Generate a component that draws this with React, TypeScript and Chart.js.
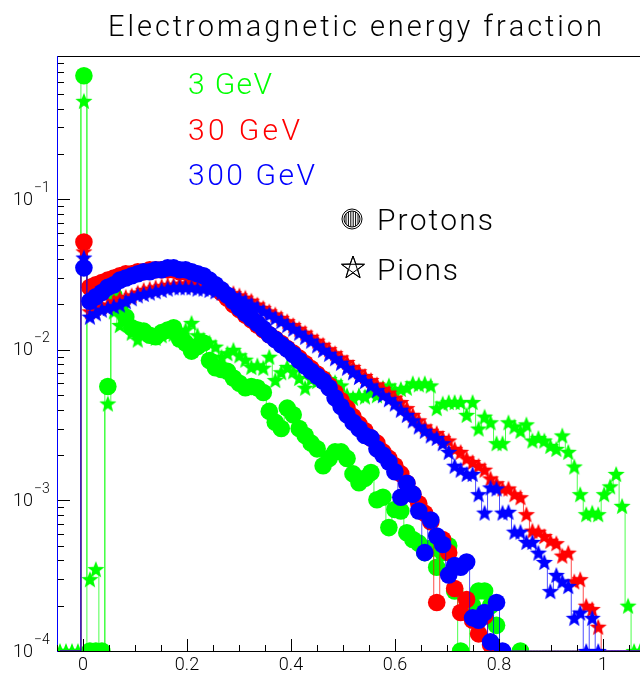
import React, { useEffect, useRef } from "react";
import { Chart, registerables } from "chart.js";

Chart.register(...registerables);

// ---------- axis definition ----------
const X_MIN = -0.05;
const X_MAX = 1.1;
const N_BINS = 100;
const Y_MIN = 1e-4;
const Y_MAX = 0.893;
const X_MAJOR_TICKS = [0, 0.2, 0.4, 0.6, 0.8, 1];
const X_TICK_LABELS = ["0", "0.2", "0.4", "0.6", "0.8", "1"];
const X_MINOR_STEP = 0.05;
const Y_DECADES = [-4, -3, -2, -1];
const Y_TICK_BASE = "10";
const Y_TICK_EXPONENTS = ["\u22124", "\u22123", "\u22122", "\u22121"];

const TITLE = "Electromagnetic energy fraction";
const ENERGY_LABELS = ["3 GeV", "30 GeV", "300 GeV"];
const PARTICLE_LABELS = ["Protons", "Pions"];

// ---------- histogram contents (100 bins, -0.05 .. 1.1) ----------
// values < 1e-4 (but > 0) are drawn on the lower frame edge, 0 = empty bin
const P_3GEV = [
  0, 0, 0, 0, 0.66, 0.00005, 0.00005, 0.00005, 0.0057, 0.023,
  0.019, 0.0165, 0.014, 0.0135, 0.0133, 0.0125, 0.0122, 0.013, 0.0135, 0.014,
  0.0118, 0.0111, 0.0098, 0.0105, 0.0111, 0.0085, 0.0076, 0.0074, 0.0072, 0.0065,
  0.006, 0.0056, 0.0057, 0.0056, 0.0052, 0.0039, 0.0033, 0.003, 0.0041, 0.0037,
  0.003, 0.0027, 0.0024, 0.0022, 0.0017, 0.0019, 0.0021, 0.0021, 0.0019, 0.0015,
  0.00131, 0.0014, 0.00153, 0.00101, 0.00105, 0.00066, 0.00087, 0.00085, 0.00061, 0.00055,
  0.00052, 0.00045, 0.00048, 0.00036, 0.00045, 0.0005, 0.00025, 0.00005, 0, 0.0002,
  0.00025, 0.00025, 0.0002, 0.000148, 0, 0, 0, 0.00005, 0, 0,
  0, 0, 0, 0, 0, 0, 0, 0, 0, 0,
  0, 0, 0, 0, 0, 0, 0, 0, 0, 0,
];
const PI_3GEV = [
  0.00005, 0.00005, 0.00005, 0.00005, 0.45, 0.0003, 0.00035, 0, 0.0044, 0.018,
  0.0146, 0.0158, 0.013, 0.0117, 0.013, 0.0128, 0.012, 0.0125, 0.0132, 0.0128,
  0.0125, 0.0136, 0.0151, 0.0125, 0.0117, 0.0112, 0.0105, 0.009, 0.0095, 0.01,
  0.0092, 0.0086, 0.0077, 0.0079, 0.0076, 0.009, 0.0063, 0.0071, 0.0077, 0.0072,
  0.0065, 0.0056, 0.0064, 0.0062, 0.0066, 0.0064, 0.0061, 0.0058, 0.005, 0.0048,
  0.005, 0.0049, 0.0052, 0.005, 0.0056, 0.0058, 0.0054, 0.0055, 0.0056, 0.006,
  0.0059, 0.006, 0.0058, 0.0041, 0.0044, 0.0045, 0.0045, 0.0045, 0.0037, 0.0045,
  0.003, 0.0036, 0.0033, 0.0024, 0.0024, 0.0033, 0.0031, 0.0029, 0.0032, 0.0025,
  0.0026, 0.0025, 0.0023, 0.0022, 0.0027, 0.0021, 0.00168, 0.0011, 0.00081, 0.00083,
  0.00081, 0.0011, 0.00124, 0.0015, 0.00092, 0.0002, 0.00005, 0.00005, 0.00005, 0.00005,
];
const P_30GEV = [
  0, 0, 0, 0, 0.052, 0.026, 0.027, 0.028, 0.029, 0.03,
  0.031, 0.032, 0.032, 0.033, 0.033, 0.034, 0.034, 0.034, 0.034, 0.034,
  0.033, 0.033, 0.032, 0.031, 0.03, 0.028, 0.026, 0.024, 0.022, 0.02,
  0.0185, 0.017, 0.0158, 0.0146, 0.0136, 0.0126, 0.0118, 0.011, 0.0102, 0.0095,
  0.0088, 0.0081, 0.0075, 0.0069, 0.0064, 0.0058, 0.0052, 0.0046, 0.0041, 0.0036,
  0.0032, 0.0029, 0.0026, 0.0024, 0.0021, 0.0019, 0.0017, 0.0015, 0.0013, 0.0011,
  0.00095, 0.00082, 0.00072, 0.00021, 0.00055, 0.00045, 0.00026, 0.00018, 0.00022, 0.00016,
  0.00013, 0.00017, 0.00011, 0, 0, 0, 0, 0, 0, 0,
  0, 0, 0, 0, 0, 0, 0, 0, 0, 0,
  0, 0, 0, 0, 0, 0, 0, 0, 0, 0,
];
const PI_30GEV = [
  0, 0, 0, 0, 0.045, 0.018, 0.019, 0.0195, 0.02, 0.021,
  0.022, 0.0225, 0.023, 0.024, 0.025, 0.0255, 0.026, 0.0265, 0.027, 0.027,
  0.0275, 0.0275, 0.0275, 0.027, 0.027, 0.0265, 0.026, 0.025, 0.0245, 0.0238,
  0.023, 0.0222, 0.0212, 0.02, 0.019, 0.018, 0.0172, 0.0163, 0.0155, 0.0146,
  0.0138, 0.013, 0.0122, 0.0115, 0.0108, 0.0101, 0.0095, 0.0089, 0.0083, 0.0077,
  0.0072, 0.0067, 0.0063, 0.0059, 0.0055, 0.0052, 0.0048, 0.0045, 0.0041, 0.0037,
  0.0034, 0.0031, 0.0029, 0.0028, 0.0026, 0.0025, 0.0022, 0.0021, 0.0019, 0.0018,
  0.0017, 0.0016, 0.0014, 0.0013, 0.0012, 0.0012, 0.0011, 0.00105, 0.00081, 0.00063,
  0.00062, 0.00058, 0.00054, 0.00052, 0.00043, 0.00045, 0.00029, 0.0003, 0.0002, 0.00019,
  0.000145, 0, 0, 0, 0, 0, 0, 0, 0, 0,
];
const P_300GEV = [
  0, 0, 0, 0, 0.035, 0.021, 0.0225, 0.024, 0.026, 0.027,
  0.029, 0.03, 0.031, 0.032, 0.033, 0.033, 0.034, 0.034, 0.035, 0.035,
  0.034, 0.034, 0.033, 0.032, 0.031, 0.029, 0.027, 0.025, 0.023, 0.021,
  0.019, 0.0175, 0.0162, 0.015, 0.0138, 0.0126, 0.0117, 0.0108, 0.0101, 0.0093,
  0.0085, 0.0078, 0.0072, 0.0067, 0.0062, 0.0056, 0.0048, 0.0042, 0.0037, 0.0033,
  0.003, 0.0027, 0.0026, 0.0022, 0.002, 0.0018, 0.00155, 0.00105, 0.0013, 0.0011,
  0.00085, 0.00045, 0.00074, 0.00058, 0.00051, 0.00032, 0.00037, 0.00036, 0.00039, 0.000166,
  0.00016, 0.00018, 0.000115, 0.00021, 0.00005, 0, 0, 0, 0, 0,
  0, 0, 0, 0, 0, 0, 0, 0, 0, 0,
  0, 0, 0, 0, 0, 0, 0, 0, 0, 0,
];
const PI_300GEV = [
  0, 0, 0, 0, 0.041, 0.0166, 0.0175, 0.0185, 0.019, 0.0195,
  0.02, 0.021, 0.022, 0.023, 0.0235, 0.024, 0.0245, 0.025, 0.0255, 0.026,
  0.026, 0.026, 0.026, 0.0255, 0.0255, 0.025, 0.0245, 0.024, 0.0235, 0.023,
  0.022, 0.021, 0.02, 0.019, 0.018, 0.0172, 0.0163, 0.0155, 0.0146, 0.0138,
  0.013, 0.0122, 0.0115, 0.0107, 0.01, 0.0094, 0.0088, 0.0082, 0.0076, 0.0071,
  0.0066, 0.0062, 0.0058, 0.0054, 0.005, 0.0047, 0.0044, 0.004, 0.0037, 0.0034,
  0.0031, 0.0029, 0.0027, 0.0026, 0.0024, 0.0021, 0.0017, 0.0016, 0.0015, 0.0015,
  0.0011, 0.00083, 0.00122, 0.0012, 0.00083, 0.00084, 0.00062, 0.00062, 0.00053, 0.00053,
  0.00045, 0.00039, 0.00025, 0.00032, 0.00029, 0.00027, 0.000166, 0.00018, 0.00005, 0.000166,
  0.00005, 0, 0, 0, 0, 0, 0, 0, 0, 0,
];

const GREEN = "#00ff00";
const RED = "#ff0000";
const BLUE = "#0000ff";
const FONT = "Roboto, 'DejaVu Sans', sans-serif";

const BIN_WIDTH = (X_MAX - X_MIN) / N_BINS;

function toPoints(values: number[]) {
  return values.map((v, i) => ({
    x: X_MIN + (i + 0.5) * BIN_WIDTH,
    y: v > 0 ? Math.max(v, Y_MIN) : Y_MIN,
    v,
  }));
}

function makeStar(color: string, R: number): HTMLCanvasElement {
  const size = Math.ceil(2 * R + 2);
  const c = document.createElement("canvas");
  c.width = size;
  c.height = size;
  const ctx = c.getContext("2d")!;
  const cx = size / 2;
  const cy = size / 2 + R * 0.1;
  ctx.fillStyle = color;
  ctx.beginPath();
  for (let k = 0; k < 10; k++) {
    const ang = -Math.PI / 2 + (k * Math.PI) / 5;
    const rad = k % 2 === 0 ? R : R * 0.42;
    const px = cx + rad * Math.cos(ang);
    const py = cy + rad * Math.sin(ang);
    if (k === 0) ctx.moveTo(px, py);
    else ctx.lineTo(px, py);
  }
  ctx.closePath();
  ctx.fill();
  return c;
}

function lineColor(hex: string) {
  const r = parseInt(hex.slice(1, 3), 16);
  const g = parseInt(hex.slice(3, 5), 16);
  const b = parseInt(hex.slice(5, 7), 16);
  return `rgba(${r},${g},${b},0.7)`;
}

function histDataset(values: number[], color: string, marker: "circle" | "star", order: number) {
  const starImg = marker === "star" ? makeStar(color, 9) : null;
  return {
    data: toPoints(values),
    borderColor: lineColor(color),
    borderWidth: 1,
    stepped: "middle" as const,
    fill: false,
    tension: 0,
    pointStyle: starImg ? starImg : "circle",
    pointRadius: (c: any) => (c.raw && c.raw.v > 0 ? 8.8 : 0),
    pointHoverRadius: (c: any) => (c.raw && c.raw.v > 0 ? 8.8 : 0),
    pointBackgroundColor: color,
    pointBorderColor: color,
    pointBorderWidth: 0,
    clip: 0,
    order,
  };
}

function drawSpaced(ctx: CanvasRenderingContext2D, text: string, x: number, y: number, width: number) {
  const chars = Array.from(text);
  const widths = chars.map((ch) => ctx.measureText(ch).width);
  const total = widths.reduce((a, b) => a + b, 0);
  const gap = chars.length > 1 ? (width - total) / (chars.length - 1) : 0;
  let cx = x;
  ctx.textAlign = "left";
  chars.forEach((ch, i) => {
    ctx.fillText(ch, cx, y);
    cx += widths[i] + gap;
  });
}

const rootFrame = {
  id: "rootFrame",
  afterDatasetsDraw(chart: any) {
    const ctx: CanvasRenderingContext2D = chart.ctx;
    const { left, right, top, bottom } = chart.chartArea;
    const xs = chart.scales.x;
    const ys = chart.scales.y;
    ctx.save();
    ctx.lineWidth = 1;
    // frame
    ctx.strokeStyle = "#000";
    ctx.beginPath();
    ctx.moveTo(left, top + 0.5);
    ctx.lineTo(right, top + 0.5);
    ctx.moveTo(left, bottom + 0.5);
    ctx.lineTo(right, bottom + 0.5);
    ctx.stroke();
    ctx.strokeStyle = BLUE;
    ctx.beginPath();
    ctx.moveTo(left + 0.5, top);
    ctx.lineTo(left + 0.5, bottom + 1);
    ctx.stroke();

    // x ticks
    ctx.strokeStyle = "#000";
    ctx.beginPath();
    const n0 = Math.round(X_MIN / X_MINOR_STEP);
    const n1 = Math.round(X_MAX / X_MINOR_STEP);
    for (let n = n0; n <= n1; n++) {
      const v = n * X_MINOR_STEP;
      const major = X_MAJOR_TICKS.some((m) => Math.abs(m - v) < 1e-6);
      const px = Math.round(xs.getPixelForValue(v)) + 0.5;
      ctx.moveTo(px, bottom);
      ctx.lineTo(px, bottom - (major ? 12 : 6));
    }
    // y ticks
    const decades = [...Y_DECADES, Y_DECADES[Y_DECADES.length - 1] + 1];
    decades.forEach((e) => {
      for (let m = 1; m <= 9; m++) {
        const v = m * Math.pow(10, e);
        if (v < Y_MIN * 0.999 || v > Y_MAX) continue;
        const py = Math.round(ys.getPixelForValue(v)) + 0.5;
        ctx.moveTo(left + 1, py);
        ctx.lineTo(left + 1 + (m === 1 ? 12 : 6), py);
      }
    });
    ctx.stroke();

    // x labels
    ctx.fillStyle = "#000";
    ctx.font = `300 18px ${FONT}`;
    ctx.textAlign = "center";
    ctx.textBaseline = "middle";
    X_MAJOR_TICKS.forEach((v, i) => {
      ctx.fillText(X_TICK_LABELS[i], xs.getPixelForValue(v), bottom + 14);
    });
    // y labels
    Y_DECADES.forEach((e, i) => {
      const py = ys.getPixelForValue(Math.pow(10, e));
      ctx.font = `300 18px ${FONT}`;
      ctx.textAlign = "right";
      ctx.fillText(Y_TICK_BASE, 33, py + 1);
      ctx.font = `300 14px ${FONT}`;
      ctx.textAlign = "left";
      ctx.fillText(Y_TICK_EXPONENTS[i], 34, py - 11);
    });
    ctx.restore();
  },
  afterDraw(chart: any) {
    const ctx: CanvasRenderingContext2D = chart.ctx;
    ctx.save();
    ctx.textBaseline = "alphabetic";
    // title
    ctx.fillStyle = "#000";
    ctx.font = `300 29px ${FONT}`;
    drawSpaced(ctx, TITLE, 108, 36, 494);
    // energies
    const eColors = [GREEN, RED, BLUE];
    const eWidths = [84, 112, 127];
    const eBase = [94, 140, 185];
    ctx.font = `300 30px ${FONT}`;
    ENERGY_LABELS.forEach((t, i) => {
      ctx.fillStyle = eColors[i];
      drawSpaced(ctx, t, 188, eBase[i], eWidths[i]);
    });
    // particles
    ctx.fillStyle = "#000";
    ctx.font = `300 30px ${FONT}`;
    drawSpaced(ctx, PARTICLE_LABELS[0], 377, 230, 116);
    drawSpaced(ctx, PARTICLE_LABELS[1], 377, 280, 81);

    // hatched circle marker
    ctx.strokeStyle = "#000";
    ctx.lineWidth = 1;
    const cx = 352, cy = 219;
    ctx.beginPath();
    ctx.arc(cx, cy, 10, 0, Math.PI * 2);
    ctx.stroke();
    ctx.beginPath();
    ctx.arc(cx, cy, 8, 0, Math.PI * 2);
    ctx.stroke();
    ctx.save();
    ctx.beginPath();
    ctx.arc(cx, cy, 8, 0, Math.PI * 2);
    ctx.clip();
    ctx.beginPath();
    for (let dx = -6; dx <= 6; dx += 2.4) {
      ctx.moveTo(cx + dx, cy - 9);
      ctx.lineTo(cx + dx, cy + 9);
    }
    ctx.stroke();
    ctx.restore();

    // open star marker with pentagram
    const sx = 353, sy = 268, R = 12, r = R * 0.42;
    const tips: [number, number][] = [];
    ctx.beginPath();
    for (let k = 0; k < 10; k++) {
      const ang = -Math.PI / 2 + (k * Math.PI) / 5;
      const rad = k % 2 === 0 ? R : r;
      const px = sx + rad * Math.cos(ang);
      const py = sy + rad * Math.sin(ang);
      if (k % 2 === 0) tips.push([px, py]);
      if (k === 0) ctx.moveTo(px, py);
      else ctx.lineTo(px, py);
    }
    ctx.closePath();
    ctx.stroke();
    ctx.beginPath();
    for (let k = 0; k <= 5; k++) {
      const p = tips[(k * 2) % 5];
      if (k === 0) ctx.moveTo(p[0], p[1]);
      else ctx.lineTo(p[0], p[1]);
    }
    ctx.stroke();
    ctx.restore();
  },
};

export default function App() {
  const ref = useRef<HTMLCanvasElement>(null);
  useEffect(() => {
    const canvas = ref.current;
    if (!canvas) return;
    const chart = new Chart(canvas, {
      type: "line",
      data: {
        datasets: [
          histDataset(P_3GEV, GREEN, "circle", 6),
          histDataset(PI_3GEV, GREEN, "star", 5),
          histDataset(P_30GEV, RED, "circle", 4),
          histDataset(PI_30GEV, RED, "star", 3),
          histDataset(P_300GEV, BLUE, "circle", 2),
          histDataset(PI_300GEV, BLUE, "star", 1),
        ] as any,
      },
      options: {
        animation: false,
        responsive: false,
        devicePixelRatio: 1,
        events: [],
        layout: { padding: { left: 0, top: 56, right: 45, bottom: 0 } },
        plugins: {
          legend: { display: false },
          tooltip: { enabled: false },
          title: { display: false },
        },
        scales: {
          x: {
            type: "linear",
            min: X_MIN,
            max: X_MAX,
            grid: { display: false, drawTicks: false },
            border: { display: false },
            ticks: { display: false },
            afterFit: (s: any) => {
              s.height = 25;
            },
          },
          y: {
            type: "logarithmic",
            min: Y_MIN,
            max: Y_MAX,
            grid: { display: false, drawTicks: false },
            border: { display: false },
            ticks: { display: false },
            afterFit: (s: any) => {
              s.width = 57;
            },
          },
        },
      } as any,
      plugins: [rootFrame],
    });
    return () => chart.destroy();
  }, []);
  return (
    <div
      style={{
        position: "fixed",
        left: 0,
        top: 0,
        width: 640,
        height: 676,
        overflow: "hidden",
        background: "#fff",
      }}
    >
      <canvas ref={ref} width={700} height={676} style={{ display: "block", width: 700, height: 676 }} />
    </div>
  );
}
